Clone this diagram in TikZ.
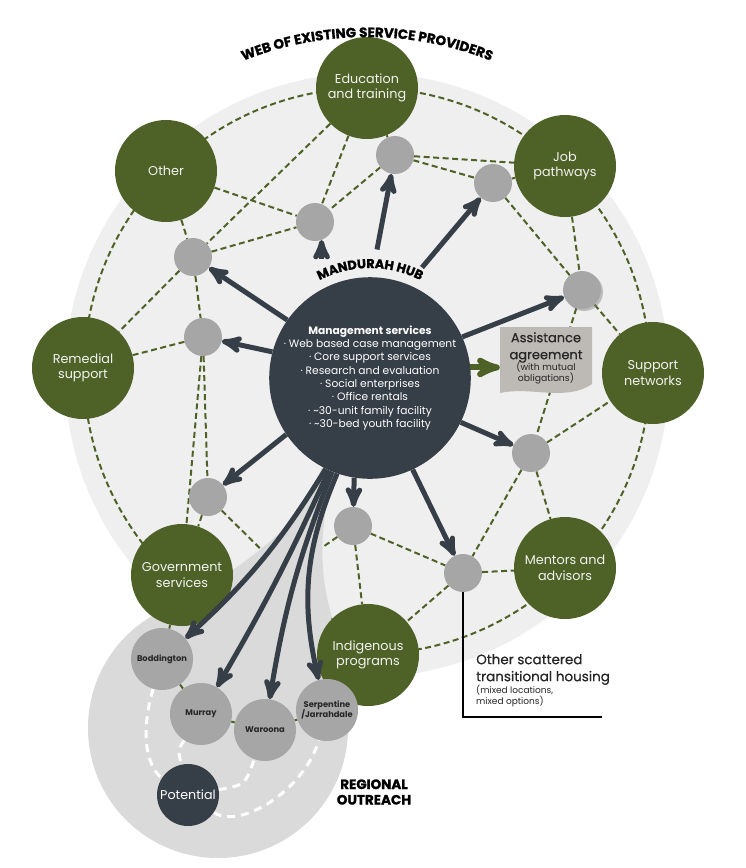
\documentclass[tikz,border=0pt]{standalone}
\usepackage{fontspec}
\setmainfont{Poppins}
\newfontfamily\heavyfont[BoldFeatures={FakeBold=1.2}]{Poppins}
\newfontfamily\midfont[FakeBold=0.5]{Poppins}
\usetikzlibrary{arrows}
\usetikzlibrary{decorations.text}
\usetikzlibrary{shadows}
\usepackage{xcolor}

\definecolor{webgreen}{HTML}{4E6228}
\definecolor{hubdark}{HTML}{363E48}
\definecolor{linkgrey}{HTML}{A6A6A6}
\definecolor{webback}{HTML}{EFEFEF}
\definecolor{reachgrey}{HTML}{DADADA}
\definecolor{paper}{HTML}{BDB9B4}
\definecolor{inktext}{HTML}{262626}

\pgfdeclarelayer{back}
\pgfdeclarelayer{web}
\pgfdeclarelayer{reach}
\pgfsetlayers{back,web,reach,main}

\tikzset{
  provider/.style={circle, fill=webgreen, text=white!92!webgreen, minimum size=102pt, inner sep=0pt, align=center, font=\fontsize{12.8}{15.5}\selectfont},
  link/.style={circle, fill=linkgrey, minimum size=38pt, inner sep=0pt},
  town/.style={circle, fill=linkgrey, minimum size=62pt, inner sep=0pt, align=center, text=inktext, font=\bfseries\fontsize{8.3}{10.5}\selectfont},
  hubnode/.style={circle, fill=hubdark, minimum size=200pt, inner sep=0pt, align=center, text=white, font=\fontsize{10.7}{13.3}\selectfont},
  webline/.style={webgreen, line width=2pt, dash pattern=on 6pt off 3.5pt},
  roadline/.style={white, line width=3pt, dash pattern=on 8pt off 6pt},
  hubarrow/.style={hubdark, line width=5pt, ->, >=stealth'},
  greenarrow/.style={webgreen, line width=6pt, ->, >=stealth'},
}

\begin{document}
\begin{tikzpicture}[x=1pt, y=-1pt]
\useasboundingbox (0,0) rectangle (745,868);

\node[provider] (edu) at (367,88) {Education\\and training};
\node[provider] (job) at (565,166) {Job\\pathways};
\node[provider] (support) at (653,373) {Support\\networks};
\node[provider] (mentors) at (565,568) {Mentors and\\advisors};
\node[provider] (indig) at (368,655) {Indigenous\\programs};
\node[provider] (gov) at (182,575) {Government\\services};
\node[provider] (remedial) at (83,368) {Remedial\\support};
\node[provider] (other) at (166,171) {Other};

\node[link] (c1) at (395,155) {};
\node[link] (c2) at (315,222) {};
\node[link] (c3) at (493,183) {};
\node[link] (c4) at (193,257) {};
\node[link] (c5) at (203,337) {};
\node[link, drop shadow={shadow xshift=2pt, shadow yshift=-2pt, opacity=0.45}] (c6) at (582,290) {};
\node[link] (c7) at (531,453) {};
\node[link] (c8) at (208,497) {};
\node[link] (c9) at (353,526) {};
\node[link] (c10) at (463,573) {};

\node[town] (bodd) at (162,659) {Boddington};
\node[town] (murray) at (201,714) {Murray};
\node[town] (waroona) at (265,730) {Waroona};
\node[town] (serp) at (327,710) {Serpentine\\/Jarrahdale};
\node[town, fill=hubdark, text=white, font=\fontsize{12.7}{14}\selectfont] (potent) at (188,795) {Potential};

\node[hubnode] (hub) at (370,378) {{\bfseries Management services}\\
  · Web based case management\\ · Core support services\\ · Research and evaluation\\
  · Social enterprises\\ · Office rentals\\ · \textasciitilde30-unit family facility\\ · \textasciitilde30-bed youth facility};

\node[align=center, text=inktext, minimum width=92pt, minimum height=66pt, inner sep=0pt,
  font=\midfont\fontsize{13}{17}\selectfont] (agree) at (546,358)
  {Assistance\\agreement\\[-6pt]{\normalfont\fontsize{9.3}{10.5}\selectfont (with mutual}\\[-6pt]{\normalfont\fontsize{9.3}{10.5}\selectfont obligations)}};

\begin{pgfonlayer}{back}
\fill[white] (0,0) rectangle (745,868);
\fill[webback] (367,375) circle[radius=302];
\end{pgfonlayer}

\begin{pgfonlayer}{web}
\draw[webline] (367,371) circle[radius=283];
\foreach \a/\b in {edu/c1, edu/c2, edu/c4, c1/c2, c1/job, c1/c3, other/c2, other/c4, c4/c2, c4/c5,
  c4/remedial, c5/remedial, c5/gov, c5/c8, c8/gov, c8/indig, c3/job, c3/c6, job/c6, c6/support,
  c6/c7, c7/support, c7/c10, c7/mentors, c9/c10, c9/indig, c9/bodd, c10/indig, c10/mentors}
  \draw[webline] (\a) -- (\b);
\end{pgfonlayer}

\begin{pgfonlayer}{reach}
\fill[reachgrey] (218,728) circle[radius=130];
\fill[reachgrey] (326,452) .. controls (310,520) and (262,548) .. (222,578) -- (140,650) -- (300,672)
  -- (318,650) -- (332,617) .. controls (318,570) and (318,520) .. (340,452) -- cycle;
\foreach \a/\b in {gov/bodd, bodd/murray, murray/waroona, waroona/serp}
  \draw[webline] (\a) -- (\b);
\draw[roadline] (bodd) .. controls (138,740) and (150,770) .. (potent) .. controls (240,830) and (305,790) .. (serp);
\draw[roadline] (murray) .. controls (178,750) .. (potent) .. controls (245,785) .. (waroona);
\fill[paper] (500,327) -- (592,327) -- (592,384) .. controls (566,402) and (530,386) .. (500,393) -- cycle;
\end{pgfonlayer}

\draw[hubarrow, shorten <=28pt] (hub.89) -- (c1);
\draw[hubarrow, shorten <=22pt] (hub.68) -- (c3);
\draw[hubarrow, shorten <=20pt] (c2.-70 |- hub.100) -- (c2.-70);
\draw[hubarrow] (hub.145) -- (c4);
\draw[hubarrow] (hub.165) -- (c5);
\draw[hubarrow] (hub.24) -- (c6);
\draw[hubarrow] (hub.-26) -- (c7);
\draw[hubarrow] (hub.-65) -- (c10);
\draw[hubarrow] (hub.-99) -- (c9);
\draw[hubarrow] (hub.-146) -- (c8);
\draw[hubarrow] (hub.-116) to[bend left=8] (bodd);
\draw[hubarrow] (hub.-114) to[bend left=3] (murray);
\draw[hubarrow] (hub.-112) to[bend right=6] (waroona);
\draw[hubarrow] (hub.-109) to[bend right=18] (serp);
\draw[greenarrow] (hub.6) -- (hub.6 -| agree.west);

\coordinate (elbow) at (463,717);
\coordinate (tail) at (602,717);
\draw[black, line width=1.8pt] (c10) -- (elbow) -- (tail);
\node[anchor=north west, align=left, text=inktext, inner sep=0pt,
  font=\midfont\fontsize{13.5}{17}\selectfont] (scatter) at (476,654)
  {Other scattered\\transitional housing\\[-5pt]{\normalfont\fontsize{9}{11}\selectfont (mixed locations,}\\[-6pt]{\normalfont\fontsize{9}{11}\selectfont mixed options)}};

\node[align=center, font=\heavyfont\bfseries\fontsize{13.5}{15.5}\selectfont] (outreach) at (374,792) {REGIONAL\\OUTREACH};

\path[decorate, decoration={text along path, text align=center,
  text={|\heavyfont\bfseries\fontsize{13.5}{14}\selectfont|WEB OF EXISTING SERVICE PROVIDERS}}]
  (367,371) ++(-130:334) arc[start angle=-130, end angle=-50, radius=334];
\path[decorate, decoration={text along path, text align=center,
  text={|\heavyfont\bfseries\fontsize{12.7}{13}\selectfont|MANDURAH HUB}}]
  (370,378) ++(-135:110) arc[start angle=-135, end angle=-45, radius=110];
\end{tikzpicture}
\end{document}
